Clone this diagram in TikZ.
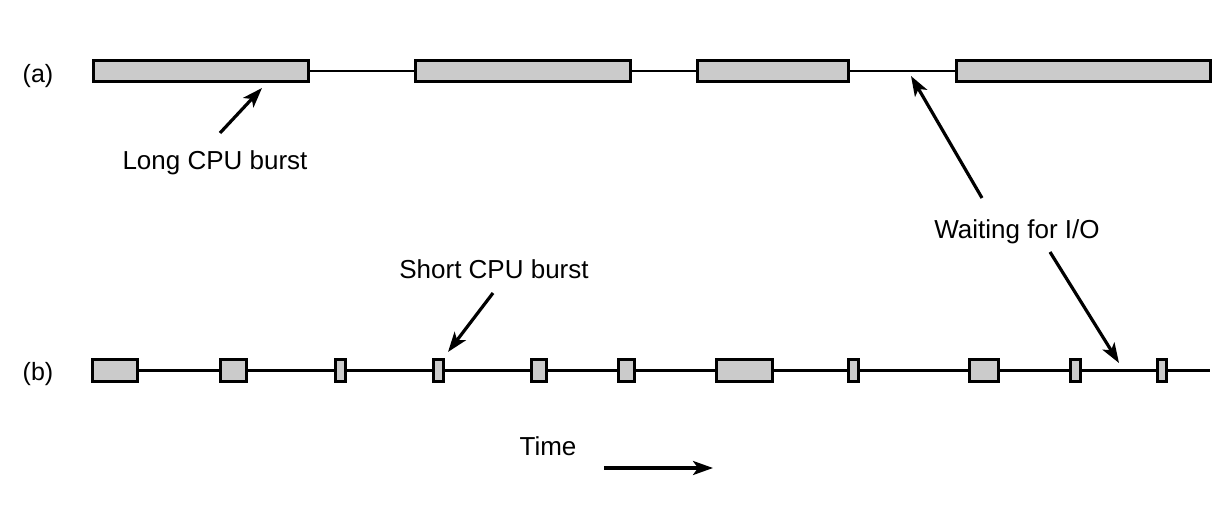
\documentclass[tikz,border=0pt]{standalone}
\usepackage{fontspec}
\setmainfont{Liberation Sans}
\usetikzlibrary{arrows.meta}
\begin{document}
\begin{tikzpicture}[x=1pt,y=-1pt,
  burst/.style={draw=black, fill={rgb,255:red,203;green,203;blue,203}, line width=3.4pt, inner sep=0pt, minimum height=21pt},
  lburst/.style={burst, minimum height=22pt},
  timeline/.style={line width=2.6pt},
  ptr/.style={line width=3.2pt, -{Stealth[length=20pt,width=14pt,inset=5pt]}},
  lbl/.style={anchor=base, inner sep=0pt, font=\fontsize{26}{30}\selectfont},
  rowlbl/.style={anchor=base, inner sep=0pt, font=\fontsize{25}{30}\selectfont}]
\useasboundingbox (0,0) rectangle (1228,505);

% row (a)
\node[rowlbl] (la) at (38,83) {(a)};
\node[burst, minimum width=215pt] (a1) at (201,71) {};
\node[burst, minimum width=215pt] (a2) at (523,71) {};
\node[burst, minimum width=151pt] (a3) at (773,71) {};
\node[burst, minimum width=254pt] (a4) at (1083.5,71) {};
\draw[timeline] (a1.east) -- (a2.west);
\draw[timeline] (a2.east) -- (a3.west);
\draw[timeline] (a3.east) -- (a4.west);

% row (b)
\node[rowlbl] (lb) at (38,380) {(b)};
\node[lburst, minimum width=45pt] (b1) at (115,370.5) {};
\node[lburst, minimum width=26pt] (b2) at (233.5,370.5) {};
\node[lburst, minimum width=10pt] (b3) at (340.5,370.5) {};
\node[lburst, minimum width=10pt] (b4) at (438.5,370.5) {};
\node[lburst, minimum width=15pt] (b5) at (539,370.5) {};
\node[lburst, minimum width=16pt] (b6) at (626.5,370.5) {};
\node[lburst, minimum width=56pt] (b7) at (744.5,370.5) {};
\node[lburst, minimum width=10pt] (b8) at (853.5,370.5) {};
\node[lburst, minimum width=29pt] (b9) at (984,370.5) {};
\node[lburst, minimum width=10pt] (b10) at (1075.5,370.5) {};
\node[lburst, minimum width=9pt] (b11) at (1162,370.5) {};
\coordinate (bend) at (1210,370.5);
\foreach \p/\q in {b1/b2,b2/b3,b3/b4,b4/b5,b5/b6,b6/b7,b7/b8,b8/b9,b9/b10,b10/b11}
  \draw[timeline] (\p.east) -- (\q.west);
\draw[timeline] (b11.east) -- (bend);

% labels
\node[lbl] (long) at (215,170) {Long CPU burst};
\node[lbl] (wait) at (1017,238) {Waiting for I/O};
\node[lbl] (short) at (494,278) {Short CPU burst};
\node[lbl] (time) at (548,455) {Time};

% arrows
\coordinate (longtail) at (220,133);
\coordinate (longtip) at (262,88);
\draw[ptr] (longtail) -- (longtip);
\coordinate (waituptail) at (982,198);
\coordinate (waituptip) at (911,76);
\draw[ptr] (waituptail) -- (waituptip);
\coordinate (waitdntail) at (1050,252);
\coordinate (waitdntip) at (1119,363);
\draw[ptr] (waitdntail) -- (waitdntip);
\coordinate (shorttail) at (493,293);
\coordinate (shorttip) at (448,352);
\draw[ptr] (shorttail) -- (shorttip);
\coordinate (timetail) at (604,468);
\coordinate (timetip) at (713,468);
\draw[ptr] (timetail) -- (timetip);
\end{tikzpicture}
\end{document}
